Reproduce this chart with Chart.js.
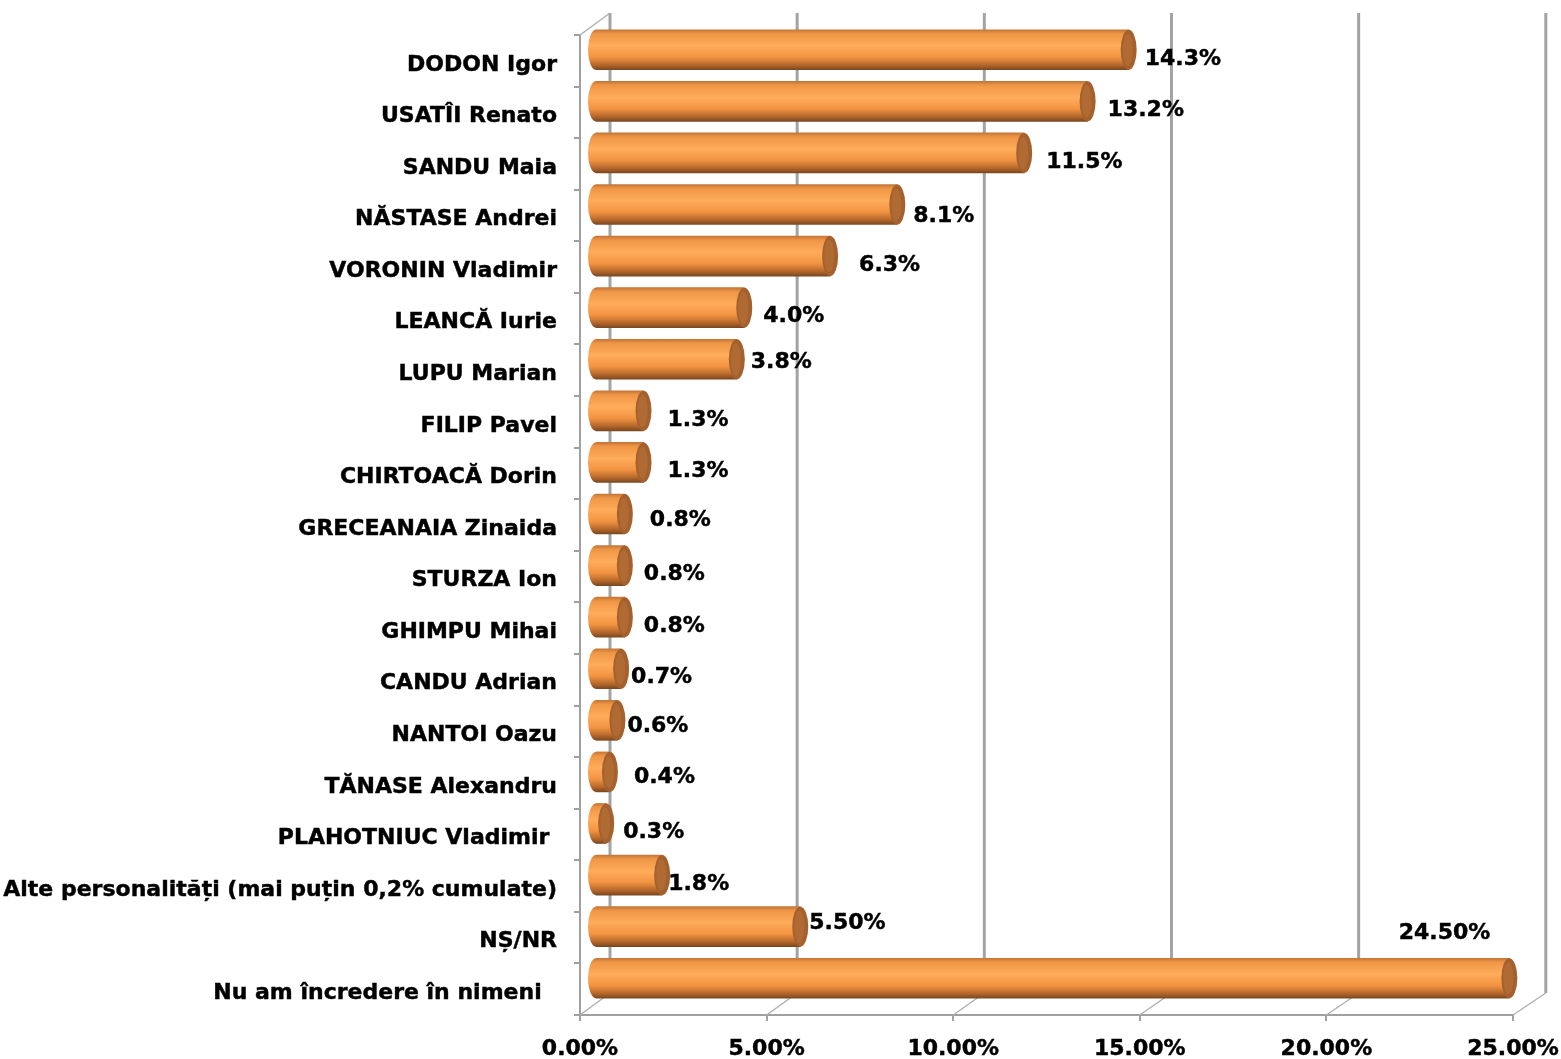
<!DOCTYPE html>
<html>
<head>
<meta charset="utf-8">
<script src="https://cdn.jsdelivr.net/npm/chart.js@4.4.1/dist/chart.umd.min.js"></script>
<style>
  html, body { margin: 0; padding: 0; background: #fff; }
  #wrap { width: 1561px; height: 1059px; position: relative; }
</style>
</head>
<body>
<div id="wrap"><canvas id="pollChart"></canvas></div>
<script>
// ===================== Data =====================
const categories = [
    'DODON Igor', 'USATÎI Renato', 'SANDU Maia', 'NĂSTASE Andrei', 'VORONIN Vladimir',
    'LEANCĂ Iurie', 'LUPU Marian', 'FILIP Pavel', 'CHIRTOACĂ Dorin', 'GRECEANAIA Zinaida',
    'STURZA Ion', 'GHIMPU Mihai', 'CANDU Adrian', 'NANTOI Oazu', 'TĂNASE Alexandru',
    'PLAHOTNIUC Vladimir ', 'Alte personalități (mai puțin 0,2% cumulate)', 'NȘ/NR',
    'Nu am încredere în nimeni  '
];
const values = [14.3, 13.2, 11.5, 8.1, 6.3, 4.0, 3.8, 1.3, 1.3, 0.8, 0.8, 0.8, 0.7, 0.6, 0.4, 0.3, 1.8, 5.5, 24.5];
const valueLabels = ['14.3%', '13.2%', '11.5%', '8.1%', '6.3%', '4.0%', '3.8%', '1.3%', '1.3%', '0.8%',
    '0.8%', '0.8%', '0.7%', '0.6%', '0.4%', '0.3%', '1.8%', '5.50%', '24.50%'];
const xTickLabels = ['0.00%', '5.00%', '10.00%', '15.00%', '20.00%', '25.00%'];

// ===================== Style =====================
const FONT = '"DejaVu Sans", Verdana, sans-serif';
const TEXT_STROKE = 0.45;
const DEPTH = { x: 30, y: -22 };       // back wall offset
const BACK_SCALE = 1.003;              // slight perspective on the back wall
const BAR_SHIFT = { x: 15, y: -11 };   // bars sit half way into the depth
const BAR_H = 40;
const CAP_RX = 8;
const BAR_FLAT = '#f39a48';
// hand nudges for the value labels (pixels), like the original's manual placement
const labelDx = [-2, 2, 4, -2, 11, 1, -4, 6, 6, 7, 1, 1, -8, -8, 6, -1, -12, 0, 0];
const labelDy = [0, 0, 0, 3, 0, 0, -6, 0, 0, -3, 0, 0, 0, -3, -4, 0, 0, 0, 0];

function barGradient(chart, index) {
    const yScale = chart.scales.y;
    const y = yScale ? yScale.getPixelForValue(index) : NaN;
    if (!Number.isFinite(y)) return BAR_FLAT;
    const g = chart.ctx.createLinearGradient(0, y - BAR_H / 2, 0, y + BAR_H / 2);
    g.addColorStop(0, '#c47638');
    g.addColorStop(0.1, '#ee9646');
    g.addColorStop(0.4, '#ffac5b');
    g.addColorStop(0.68, '#f29442');
    g.addColorStop(0.88, '#b5672b');
    g.addColorStop(1, '#7a4820');
    return g;
}

// ===================== Plugins =====================
const wall3d = {
    id: 'wall3d',
    beforeDatasetsDraw(chart) {
        const { ctx, chartArea: a, scales: { x } } = chart;
        const backX = v => a.left + DEPTH.x + (x.getPixelForValue(v) - a.left) * BACK_SCALE;
        ctx.save();
        ctx.lineWidth = 3;
        ctx.strokeStyle = '#a3a3a3';
        for (let v = 0; v <= 25; v += 5) {
            ctx.beginPath();
            ctx.moveTo(backX(v), a.top + DEPTH.y);
            ctx.lineTo(backX(v), a.bottom + DEPTH.y);
            ctx.stroke();
        }
        ctx.lineWidth = 1.5;
        ctx.strokeStyle = '#b0b0b0';
        for (let v = 0; v <= 25; v += 5) {
            ctx.beginPath();
            ctx.moveTo(x.getPixelForValue(v), a.bottom);
            ctx.lineTo(backX(v), a.bottom + DEPTH.y);
            ctx.stroke();
        }
        // top left edge of the side wall
        ctx.beginPath();
        ctx.moveTo(a.left, a.top);
        ctx.lineTo(a.left + DEPTH.x, a.top + DEPTH.y);
        ctx.stroke();
        ctx.restore();

        ctx.save();
        ctx.translate(BAR_SHIFT.x, BAR_SHIFT.y);
        const meta = chart.getDatasetMeta(0);
        meta.data.forEach((bar, i) => {
            const g = barGradient(chart, i);
            bar.options.backgroundColor = g;
            // rounded back end of the cylinder
            ctx.beginPath();
            ctx.ellipse(bar.base, bar.y, CAP_RX, bar.height / 2, 0, Math.PI / 2, Math.PI * 1.5);
            ctx.closePath();
            ctx.fillStyle = g;
            ctx.fill();
        });
    },
    afterDatasetsDraw(chart) {
        const { ctx } = chart;
        const meta = chart.getDatasetMeta(0);
        meta.data.forEach(bar => {
            const ry = bar.height / 2;
            ctx.beginPath();
            ctx.ellipse(bar.x, bar.y, CAP_RX, ry, 0, 0, Math.PI * 2);
            ctx.fillStyle = '#a5612d';
            ctx.fill();
            ctx.beginPath();
            ctx.ellipse(bar.x - 1, bar.y, CAP_RX - 3, ry - 4, 0, 0, Math.PI * 2);
            ctx.fillStyle = '#b06b34';
            ctx.fill();
        });
        ctx.restore();

        // value labels
        ctx.save();
        ctx.font = 'bold 22px ' + FONT;
        ctx.fillStyle = '#000';
        ctx.strokeStyle = '#000';
        ctx.lineWidth = TEXT_STROKE;
        ctx.textBaseline = 'middle';
        meta.data.forEach((bar, i) => {
            const endX = bar.x + BAR_SHIFT.x + CAP_RX;
            const cy = bar.y + BAR_SHIFT.y;
            let tx, ty;
            if (i === values.length - 1) {
                ctx.textAlign = 'right';
                tx = endX - 27; ty = cy - 45;
            } else if (i === values.length - 2) {
                ctx.textAlign = 'left';
                tx = endX + 1; ty = cy - 3;
            } else {
                ctx.textAlign = 'left';
                tx = endX + 10; ty = cy + 9;
            }
            tx += labelDx[i];
            ty += labelDy[i];
            ctx.fillText(valueLabels[i], tx, ty);
            ctx.strokeText(valueLabels[i], tx, ty);
        });
        ctx.restore();
    }
};

// ===================== Chart Setup =====================
function setupChart() {
    const canvas = document.getElementById('pollChart');
    new Chart(canvas.getContext('2d'), {
        type: 'bar',
        data: {
            labels: categories,
            datasets: [{
                data: values,
                backgroundColor: c => barGradient(c.chart, c.dataIndex),
                borderWidth: 0,
                borderSkipped: false,
                barThickness: BAR_H
            }]
        },
        options: {
            indexAxis: 'y',
            responsive: true,
            maintainAspectRatio: false,
            animation: false,
            layout: { padding: { top: 35, right: 48, left: 0, bottom: 0 } },
            plugins: { legend: { display: false }, tooltip: { enabled: false } },
            scales: {
                x: {
                    min: 0,
                    max: 25,
                    afterFit: s => { s.height = 44; s.paddingLeft = 0; s.paddingRight = 0; },
                    ticks: {
                        stepSize: 5,
                        padding: 15,
                        color: '#000',
                        textStrokeColor: '#000',
                        textStrokeWidth: TEXT_STROKE,
                        font: { family: FONT, size: 22, weight: 'bold' },
                        callback: (v, i) => xTickLabels[i]
                    },
                    grid: { drawOnChartArea: false, drawTicks: true, tickLength: 6, color: '#a0a0a0', lineWidth: 2 },
                    border: { display: true, color: '#a0a0a0', width: 2 }
                },
                y: {
                    afterFit: s => { s.width = 580; s.paddingTop = 0; s.paddingBottom = 0; },
                    ticks: {
                        padding: 17,
                        labelOffset: 4,
                        color: '#000',
                        textStrokeColor: '#000',
                        textStrokeWidth: TEXT_STROKE,
                        font: { family: FONT, size: 22, weight: 'bold' }
                    },
                    grid: { offset: true, drawOnChartArea: false, drawTicks: true, tickLength: 6, color: '#a0a0a0', lineWidth: 2 },
                    border: { display: true, color: '#a0a0a0', width: 2 }
                }
            }
        },
        plugins: [wall3d]
    });
}

setupChart();
</script>
</body>
</html>
